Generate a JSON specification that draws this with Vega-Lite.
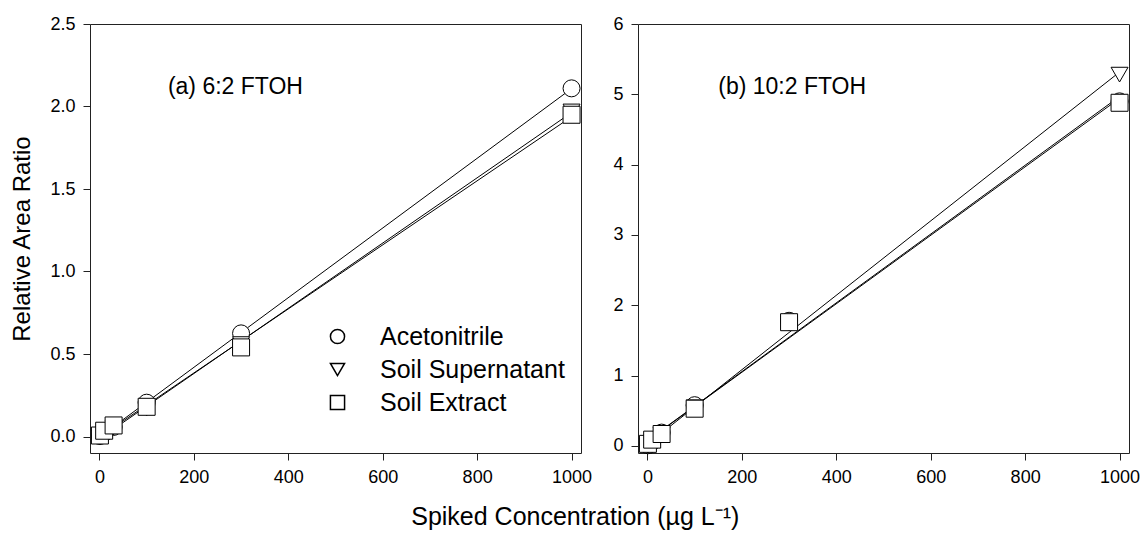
{
  "$schema": "https://vega.github.io/schema/vega-lite/v6.json",
  "padding": {"left": 10, "top": 14, "right": 6, "bottom": 2},
  "config": {
    "font": "Liberation Sans",
    "view": {"stroke": "#222", "strokeWidth": 1},
    "axis": {"grid": false, "domain": false, "tickColor": "#222", "tickSize": 7, "labelFontSize": 18, "labelColor": "#000", "labelPadding": 8, "titleFontSize": 24, "titleFontWeight": "normal", "titleColor": "#000"},
    "title": {"fontSize": 25, "fontWeight": "normal", "color": "#000"}
  },
  "title": {"text": "Spiked Concentration (µg L⁻¹)", "orient": "bottom", "anchor": "middle", "offset": 18},
  "datasets": {
    "a": [
      {"solvent": "Acetonitrile", "x": 1, "y": 0.003},
      {"solvent": "Acetonitrile", "x": 10, "y": 0.022},
      {"solvent": "Acetonitrile", "x": 30, "y": 0.058},
      {"solvent": "Acetonitrile", "x": 100, "y": 0.205},
      {"solvent": "Acetonitrile", "x": 300, "y": 0.625},
      {"solvent": "Acetonitrile", "x": 1000, "y": 2.11},
      {"solvent": "Soil Supernatant", "x": 1, "y": -0.005},
      {"solvent": "Soil Supernatant", "x": 10, "y": 0.015},
      {"solvent": "Soil Supernatant", "x": 30, "y": 0.055},
      {"solvent": "Soil Supernatant", "x": 100, "y": 0.17},
      {"solvent": "Soil Supernatant", "x": 300, "y": 0.56},
      {"solvent": "Soil Supernatant", "x": 1000, "y": 1.97},
      {"solvent": "Soil Extract", "x": 1, "y": 0.006},
      {"solvent": "Soil Extract", "x": 10, "y": 0.035},
      {"solvent": "Soil Extract", "x": 30, "y": 0.067},
      {"solvent": "Soil Extract", "x": 100, "y": 0.18},
      {"solvent": "Soil Extract", "x": 300, "y": 0.54},
      {"solvent": "Soil Extract", "x": 1000, "y": 1.95}
    ],
    "b": [
      {"solvent": "Acetonitrile", "x": 1, "y": 0.01},
      {"solvent": "Acetonitrile", "x": 10, "y": 0.06},
      {"solvent": "Acetonitrile", "x": 30, "y": 0.19},
      {"solvent": "Acetonitrile", "x": 100, "y": 0.58},
      {"solvent": "Acetonitrile", "x": 300, "y": 1.78},
      {"solvent": "Acetonitrile", "x": 1000, "y": 4.9},
      {"solvent": "Soil Supernatant", "x": 1, "y": 0.0},
      {"solvent": "Soil Supernatant", "x": 10, "y": 0.05},
      {"solvent": "Soil Supernatant", "x": 30, "y": 0.16},
      {"solvent": "Soil Supernatant", "x": 100, "y": 0.55},
      {"solvent": "Soil Supernatant", "x": 300, "y": 1.74},
      {"solvent": "Soil Supernatant", "x": 1000, "y": 5.28},
      {"solvent": "Soil Extract", "x": 1, "y": 0.03},
      {"solvent": "Soil Extract", "x": 10, "y": 0.09},
      {"solvent": "Soil Extract", "x": 30, "y": 0.17},
      {"solvent": "Soil Extract", "x": 100, "y": 0.53},
      {"solvent": "Soil Extract", "x": 300, "y": 1.76},
      {"solvent": "Soil Extract", "x": 1000, "y": 4.88}
    ],
    "labels": [
      {"panel": "a", "label": "(a) 6:2 FTOH", "x": 145, "y": 2.12},
      {"panel": "b", "label": "(b) 10:2 FTOH", "x": 150, "y": 5.1}
    ]
  },
  "resolve": {"scale": {"shape": "independent"}, "legend": {"shape": "independent"}},
  "spacing": 19,
  "hconcat": [
    {
      "width": 491,
      "height": 429,
      "layer": [
        {
          "data": {"name": "a"},
          "transform": [{"regression": "y", "on": "x", "groupby": ["solvent"], "extent": [0, 1000]}],
          "mark": {"type": "line", "color": "#000", "strokeWidth": 1},
          "encoding": {
            "x": {"field": "x", "type": "quantitative"},
            "y": {"field": "y", "type": "quantitative"},
            "detail": {"field": "solvent"}
          }
        },
        {
          "data": {"name": "a"},
          "mark": {"type": "point", "filled": true, "fill": "#fff", "stroke": "#000", "strokeWidth": 1, "size": 289, "opacity": 1},
          "encoding": {
            "x": {"field": "x", "type": "quantitative", "title": null, "scale": {"domain": [-20, 1020], "nice": false, "zero": false}, "axis": {"values": [0, 200, 400, 600, 800, 1000], "format": "d"}},
            "y": {"field": "y", "type": "quantitative", "title": "Relative Area Ratio", "scale": {"domain": [-0.1, 2.5], "nice": false, "zero": false}, "axis": {"values": [0, 0.5, 1, 1.5, 2, 2.5], "format": ".1f", "titlePadding": 15}},
            "shape": {
              "field": "solvent", "type": "nominal",
              "scale": {"domain": ["Acetonitrile", "Soil Supernatant", "Soil Extract"], "range": ["circle", "triangle-down", "square"]},
              "legend": {
                "orient": "none", "legendX": 235, "legendY": 300, "title": null,
                "labelFontSize": 25, "labelColor": "#000", "labelLimit": 400,
                "rowPadding": 7, "labelOffset": 30, "symbolSize": 200
              }
            }
          }
        },
        {
          "data": {"name": "labels"},
          "transform": [{"filter": "datum.panel === 'a'"}],
          "mark": {"type": "text", "align": "left", "baseline": "middle", "fontSize": 23, "color": "#000"},
          "encoding": {
            "x": {"field": "x", "type": "quantitative"},
            "y": {"field": "y", "type": "quantitative"},
            "text": {"field": "label"}
          }
        }
      ]
    },
    {
      "width": 491,
      "height": 429,
      "layer": [
        {
          "data": {"name": "b"},
          "transform": [{"regression": "y", "on": "x", "groupby": ["solvent"], "extent": [0, 1000]}],
          "mark": {"type": "line", "color": "#000", "strokeWidth": 1},
          "encoding": {
            "x": {"field": "x", "type": "quantitative"},
            "y": {"field": "y", "type": "quantitative"},
            "detail": {"field": "solvent"}
          }
        },
        {
          "data": {"name": "b"},
          "mark": {"type": "point", "filled": true, "fill": "#fff", "stroke": "#000", "strokeWidth": 1, "size": 289, "opacity": 1},
          "encoding": {
            "x": {"field": "x", "type": "quantitative", "title": null, "scale": {"domain": [-20, 1020], "nice": false, "zero": false}, "axis": {"values": [0, 200, 400, 600, 800, 1000], "format": "d"}},
            "y": {"field": "y", "type": "quantitative", "title": null, "scale": {"domain": [-0.1, 6], "nice": false, "zero": false}, "axis": {"values": [0, 1, 2, 3, 4, 5, 6], "format": "d"}},
            "shape": {
              "field": "solvent", "type": "nominal",
              "scale": {"domain": ["Acetonitrile", "Soil Supernatant", "Soil Extract"], "range": ["circle", "triangle-down", "square"]},
              "legend": null
            }
          }
        },
        {
          "data": {"name": "labels"},
          "transform": [{"filter": "datum.panel === 'b'"}],
          "mark": {"type": "text", "align": "left", "baseline": "middle", "fontSize": 23, "color": "#000"},
          "encoding": {
            "x": {"field": "x", "type": "quantitative"},
            "y": {"field": "y", "type": "quantitative"},
            "text": {"field": "label"}
          }
        }
      ]
    }
  ]
}
